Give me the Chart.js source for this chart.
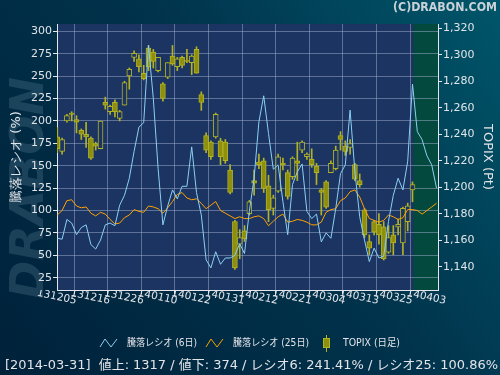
<!DOCTYPE html>
<html>
<head>
<meta charset="utf-8">
<style>
  html, body { margin: 0; padding: 0; background: #00243a; }
  #wrap { width: 500px; height: 375px; position: relative; }
</style>
<script src="https://cdn.jsdelivr.net/npm/chart.js@4.4.1/dist/chart.umd.min.js"></script>
</head>
<body>
<div id="wrap"><canvas id="chart" width="500" height="375"></canvas></div>
<script>
// ---- data ----
// trading day index 0 = 2013-12-05, last candle (74) = 2014-03-31
const xTickIdx = [0, 7, 14, 21, 28, 35, 42, 49, 56, 63, 70, 77];
const xTickLabels = ['131205', '131216', '131226', '140110', '140122', '140131',
                     '140212', '140221', '140304', '140313', '140325', '140403'];
const leftTicks = [25, 50, 75, 100, 125, 150, 175, 200, 225, 250, 275, 300];
const rightTicks = [1140, 1160, 1180, 1200, 1220, 1240, 1260, 1280, 1300, 1320];

// 騰落レシオ (6日)
const ratio6 = [69, 68, 90, 86, 73, 81, 84, 62, 57, 67,
                84, 86, 83, 106, 117, 136, 166, 193, 198, 284,
                225, 147, 84, 105, 123, 113, 127, 127, 171, 120,
                95, 45, 36, 54, 40, 47, 47, 50, 63, 52,
                99, 136, 199, 228, 186, 146, 151, 110, 73, 129,
                143, 152, 99, 91, 96, 65, 75, 69, 102, 141,
                151, 212, 143, 93, 67, 43, 58, 47, 49, 88,
                117, 136, 123, 155, 241, 188, 179, 161, 151, 125];
// 騰落レシオ (25日)
const ratio25 = [95, 100, 111, 112, 105, 103, 104, 97, 94, 98,
                 96, 90, 85, 86, 92, 95, 101, 99, 98, 105,
                 104, 102, 97, 103, 110, 118, 120, 114, 112, 113,
                 108, 102, 106, 110, 100, 97, 94, 91, 93, 91,
                 91, 93, 94, 91, 83, 88, 93, 96, 87, 88,
                 90, 89, 87, 84, 84, 87, 98, 101, 102, 111,
                 114, 121, 123, 115, 102, 91, 89, 87, 89, 95,
                 93, 90, 92, 101, 101, 100, 96, 100, 104, 108];

// TOPIX daily candles
const topixOpen = [1238, 1227, 1250, 1256, 1251, 1243, 1240, 1237, 1233, 1229,
                   1264, 1257, 1264, 1252, 1262, 1284, 1298, 1297, 1286, 1305,
                   1302, 1288, 1278, 1283, 1299, 1291, 1298, 1296, 1294, 1304,
                   1270, 1239, 1234, 1238, 1235, 1234, 1213, 1174, 1157, 1167,
                   1180, 1205, 1219, 1220, 1201, 1184, 1197, 1218, 1211, 1208,
                   1220, 1228, 1223, 1221, 1216, 1198, 1204, 1211, 1214, 1239,
                   1231, 1230, 1217, 1205, 1183, 1159, 1174, 1172, 1170, 1151,
                   1164, 1170, 1158, 1174, 1198];
const topixHigh = [1245, 1237, 1255, 1257, 1254, 1244, 1249, 1238, 1234, 1250,
                   1268, 1262, 1266, 1258, 1280, 1290, 1303, 1300, 1292, 1307,
                   1304, 1298, 1279, 1294, 1307, 1298, 1299, 1304, 1300, 1306,
                   1272, 1241, 1235, 1256, 1237, 1236, 1217, 1175, 1168, 1171,
                   1190, 1213, 1225, 1222, 1209, 1194, 1225, 1222, 1213, 1223,
                   1234, 1235, 1226, 1229, 1218, 1199, 1205, 1220, 1231, 1242,
                   1235, 1236, 1218, 1210, 1184, 1164, 1175, 1180, 1174, 1171,
                   1171, 1176, 1185, 1188, 1204];
const topixLow = [1226, 1225, 1249, 1250, 1241, 1236, 1230, 1221, 1228, 1229,
                  1259, 1255, 1253, 1250, 1262, 1274, 1295, 1287, 1281, 1288,
                  1290, 1287, 1265, 1282, 1292, 1288, 1290, 1294, 1285, 1286,
                  1258, 1226, 1221, 1237, 1217, 1218, 1195, 1138, 1146, 1159,
                  1179, 1194, 1214, 1196, 1174, 1179, 1196, 1213, 1191, 1206,
                  1205, 1226, 1221, 1215, 1202, 1179, 1184, 1211, 1213, 1228,
                  1224, 1225, 1205, 1200, 1162, 1149, 1164, 1157, 1145, 1150,
                  1149, 1164, 1149, 1167, 1189];
const topixClose = [1229, 1236, 1254, 1255, 1249, 1240, 1238, 1222, 1231, 1250,
                    1262, 1261, 1257, 1257, 1279, 1289, 1301, 1291, 1282, 1291,
                    1295, 1298, 1267, 1294, 1293, 1297, 1292, 1295, 1299, 1286,
                    1264, 1228, 1223, 1255, 1223, 1220, 1196, 1139, 1162, 1161,
                    1189, 1203, 1217, 1199, 1183, 1192, 1223, 1217, 1193, 1222,
                    1218, 1234, 1225, 1217, 1211, 1196, 1185, 1218, 1228, 1236,
                    1227, 1233, 1206, 1202, 1164, 1154, 1166, 1164, 1146, 1162,
                    1158, 1172, 1184, 1186, 1202];

// ---- look ----
const plotBg = '#1b3462';
const futureBg = '#03493d';
const gridColor = 'rgba(150,165,195,0.55)';
const axisColor = '#e4e6ea';
const textColor = '#e2e4e8';
const blue = '#8ccff2';
const orange = '#ffa200';
const oliveFill = '#8f8f0e';
const oliveEdge = '#b2b226';

const lastIdx = topixClose.length - 1;
const xy = (arr) => arr.map((v, i) => ({ x: i, y: v }));

const bgPlugin = {
  id: 'bg',
  beforeDraw(chart) {
    const { ctx, chartArea: a } = chart;
    ctx.save();
    const g = ctx.createLinearGradient(500, 0, 0, 375);
    g.addColorStop(0, '#00566a');
    g.addColorStop(0.45, '#01334c');
    g.addColorStop(1, '#00213a');
    ctx.fillStyle = g;
    ctx.fillRect(0, 0, 500, 375);
    // watermark
    ctx.save();
    ctx.translate(31, 188);
    ctx.rotate(-Math.PI / 2);
    ctx.font = 'italic bold 46px "DejaVu Sans"';
    ctx.fillStyle = 'rgba(90,130,150,0.3)';
    ctx.textAlign = 'center';
    ctx.textBaseline = 'middle';
    ctx.fillText('DRABON', 0, 0);
    ctx.restore();
    ctx.fillStyle = plotBg;
    ctx.fillRect(a.left, a.top, a.right - a.left, a.bottom - a.top);
    const fx = chart.scales.x.getPixelForValue(lastIdx + 0.2);
    ctx.fillStyle = futureBg;
    ctx.fillRect(fx, a.top, a.right - fx, a.bottom - a.top);
    ctx.restore();
  },
  afterDraw(chart) {
    const { ctx } = chart;
    ctx.save();
    // copyright
    ctx.font = 'bold 11.5px "DejaVu Sans"';
    ctx.fillStyle = '#c9d2d8';
    ctx.textAlign = 'right';
    ctx.textBaseline = 'middle';
    ctx.fillText('(C)DRABON.COM', 497, 8, 104);

    // legend
    ctx.textAlign = 'left';
    ctx.font = '10px "DejaVu Sans", "Noto Sans CJK JP"';
    ctx.fillStyle = textColor;
    const ly = 343;
    const zig = (x, color) => {
      ctx.strokeStyle = color;
      ctx.lineWidth = 1;
      ctx.beginPath();
      ctx.moveTo(x, ly + 4);
      ctx.lineTo(x + 5, ly - 4);
      ctx.lineTo(x + 11, ly + 4);
      ctx.lineTo(x + 17, ly - 4);
      ctx.stroke();
    };
    zig(100, blue);
    ctx.fillText('騰落レシオ (6日)', 127, ly, 70);
    zig(206, orange);
    ctx.fillText('騰落レシオ (25日)', 233, ly, 76);
    ctx.fillStyle = oliveEdge;
    ctx.fillRect(326, 335, 1, 17);
    ctx.fillStyle = oliveFill;
    ctx.fillRect(323, 338, 7, 10);
    ctx.strokeStyle = oliveEdge;
    ctx.strokeRect(323.5, 338.5, 6, 9);
    ctx.fillStyle = textColor;
    ctx.fillText('TOPIX (日足)', 343, ly, 57);

    // status line
    ctx.font = '13px "DejaVu Sans", "Noto Sans CJK JP"';
    ctx.fillText('[2014-03-31]  値上: 1317 / 値下: 374 / レシオ6: 241.41% / レシオ25: 100.86%', 5, 366, 493);
    ctx.restore();
  }
};

const tickFont = { family: 'DejaVu Sans', size: 11 };

new Chart(document.getElementById('chart'), {
  type: 'bar',
  data: {
    datasets: [
      {
        type: 'line', label: '騰落レシオ (6日)', data: xy(ratio6), yAxisID: 'yL', xAxisID: 'x',
        borderColor: blue, borderWidth: 1, pointRadius: 0, tension: 0, order: 0
      },
      {
        type: 'line', label: '騰落レシオ (25日)', data: xy(ratio25), yAxisID: 'yL', xAxisID: 'x',
        borderColor: orange, borderWidth: 1, pointRadius: 0, tension: 0, order: 0
      },
      {
        label: 'wick', data: topixHigh.map((h, i) => ({ x: i, y: [topixLow[i], h] })),
        yAxisID: 'yR', xAxisID: 'x', backgroundColor: oliveEdge, barThickness: 1,
        grouped: false, order: 2
      },
      {
        label: 'TOPIX (日足)',
        data: topixOpen.map((o, i) => ({ x: i, y: [Math.min(o, topixClose[i]), Math.max(o, topixClose[i])] })),
        yAxisID: 'yR', xAxisID: 'x',
        backgroundColor: topixOpen.map((o, i) => topixClose[i] > o ? plotBg : oliveFill),
        borderColor: oliveEdge, borderWidth: 1, borderSkipped: false,
        barThickness: 5, grouped: false, order: 1
      }
    ]
  },
  options: {
    responsive: false,
    animation: false,
    devicePixelRatio: 1,
    events: [],
    layout: { padding: { top: 24, left: 0, right: 0, bottom: 0 } },
    plugins: { legend: { display: false }, tooltip: { enabled: false } },
    scales: {
      x: {
        type: 'linear', min: -0.0625, max: 79.31, offset: false,
        afterBuildTicks: (s) => { s.ticks = xTickIdx.map(v => ({ value: v })); },
        ticks: {
          autoSkip: false, minRotation: -12, maxRotation: -12, labelOffset: 19, padding: 1,
          color: textColor, font: { family: 'DejaVu Sans', size: 10.5 },
          callback: (v, i) => xTickLabels[i]
        },
        grid: { color: gridColor, tickColor: axisColor, tickLength: 4 },
        border: { color: axisColor },
        afterFit: (s) => { s.height = 85; }
      },
      yL: {
        position: 'left', min: 11.3, max: 308.1,
        afterBuildTicks: (s) => { s.ticks = leftTicks.map(v => ({ value: v })); },
        ticks: { color: textColor, font: tickFont, padding: 1 },
        grid: { color: gridColor, tickColor: axisColor, tickLength: 4 },
        border: { color: axisColor },
        title: { display: true, text: '騰落レシオ (%)', color: textColor,
                 font: { family: 'DejaVu Sans', size: 13 }, padding: { top: 9, bottom: 0 } },
        afterFit: (s) => { s.width = 57; }
      },
      yR: {
        position: 'right', min: 1122.4, max: 1323.2,
        afterBuildTicks: (s) => { s.ticks = rightTicks.map(v => ({ value: v })); },
        ticks: { color: textColor, font: tickFont, padding: 1,
                 callback: (v) => v.toLocaleString('en-US') },
        grid: { drawOnChartArea: false, tickColor: axisColor, tickLength: 4 },
        border: { color: axisColor },
        title: { display: true, text: 'TOPIX (Pt)', color: textColor,
                 font: { family: 'DejaVu Sans', size: 13 }, padding: { top: 5, bottom: 0 } },
        afterFit: (s) => { s.width = 62; }
      }
    }
  },
  plugins: [bgPlugin]
});
</script>
</body>
</html>
